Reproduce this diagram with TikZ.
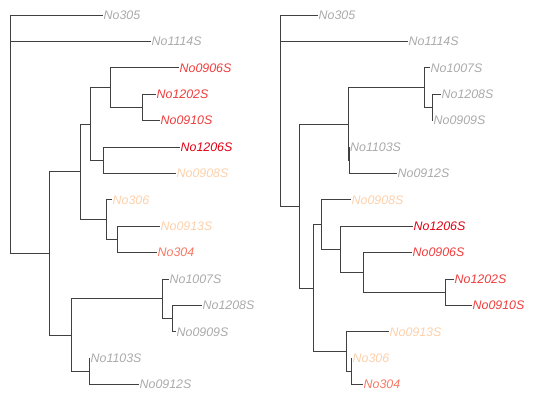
\documentclass[tikz,border=0pt]{standalone}
\usepackage{fontspec}
\setmainfont{Liberation Sans}
\definecolor{tipgrey}{RGB}{170,170,170}
\definecolor{tippeach}{RGB}{253,208,170}
\definecolor{tipsalmon}{RGB}{246,120,100}
\definecolor{tipred}{RGB}{240,60,60}
\definecolor{tipdeep}{RGB}{225,0,20}
\tikzset{
  leaf/.style={anchor=west, inner sep=0.5pt, font=\fontsize{12.4}{14}\selectfont\itshape},
  branch/.style={draw=black!75, line width=0.8pt},
}
\begin{document}
\begin{tikzpicture}[x=1pt, y=-1pt]
  \useasboundingbox (0,0) rectangle (540,400);

  % Left tree: leaves
  \node[leaf, tipgrey]   (a305)  at (103,15)    {No305};
  \node[leaf, tipgrey]   (a1114) at (151,41.4)  {No1114S};
  \node[leaf, tipred]    (a0906) at (179,67.8)  {No0906S};
  \node[leaf, tipred]    (a1202) at (156,94.2)  {No1202S};
  \node[leaf, tipred]    (a0910) at (160,120.6) {No0910S};
  \node[leaf, tipdeep]   (a1206) at (180,147)   {No1206S};
  \node[leaf, tippeach]  (a0908) at (176,173.4) {No0908S};
  \node[leaf, tippeach]  (a306)  at (112,199.8) {No306};
  \node[leaf, tippeach]  (a0913) at (160,226.2) {No0913S};
  \node[leaf, tipsalmon] (a304)  at (157,252.6) {No304};
  \node[leaf, tipgrey]   (a1007) at (169,279)   {No1007S};
  \node[leaf, tipgrey]   (a1208) at (202,305.4) {No1208S};
  \node[leaf, tipgrey]   (a0909) at (176,331.8) {No0909S};
  \node[leaf, tipgrey]   (a1103) at (90,358.2)  {No1103S};
  \node[leaf, tipgrey]   (a0912) at (139,384.6) {No0912S};

  % Left tree: inner nodes
  \coordinate (aR) at (10,134);
  \coordinate (aA) at (49,253.4);
  \coordinate (aB) at (80,171.75);
  \coordinate (aC) at (90,123.9);
  \coordinate (aD) at (110,87.6);
  \coordinate (aH) at (142,107.4);
  \coordinate (aG) at (103,160.2);
  \coordinate (aE) at (106,219.6);
  \coordinate (aI) at (117,239.4);
  \coordinate (aF) at (71,335.1);
  \coordinate (aJ) at (162,298.8);
  \coordinate (aM) at (172,318.6);
  \coordinate (aK) at (89,371.4);

  % Right tree: leaves
  \node[leaf, tipgrey]   (b305)  at (318,15)    {No305};
  \node[leaf, tipgrey]   (b1114) at (408,41.4)  {No1114S};
  \node[leaf, tipgrey]   (b1007) at (430,67.8)  {No1007S};
  \node[leaf, tipgrey]   (b1208) at (441,94.2)  {No1208S};
  \node[leaf, tipgrey]   (b0909) at (433,120.6) {No0909S};
  \node[leaf, tipgrey]   (b1103) at (349.5,147) {No1103S};
  \node[leaf, tipgrey]   (b0912) at (397,173.4) {No0912S};
  \node[leaf, tippeach]  (b0908) at (351,199.8) {No0908S};
  \node[leaf, tipdeep]   (b1206) at (413,226.2) {No1206S};
  \node[leaf, tipred]    (b0906) at (412,252.6) {No0906S};
  \node[leaf, tipred]    (b1202) at (454,279)   {No1202S};
  \node[leaf, tipred]    (b0910) at (472,305.4) {No0910S};
  \node[leaf, tippeach]  (b0913) at (389,331.8) {No0913S};
  \node[leaf, tippeach]  (b306)  at (352,358.2) {No306};
  \node[leaf, tipsalmon] (b304)  at (363,384.6) {No304};

  % Right tree: inner nodes
  \coordinate (bR) at (280,110);
  \coordinate (bA) at (299,206);
  \coordinate (bB) at (348,123.9);
  \coordinate (bC) at (424,87.6);
  \coordinate (bE) at (432,107.4);
  \coordinate (bD) at (349,160.2);
  \coordinate (bF) at (313,288.1);
  \coordinate (bG) at (321,224.55);
  \coordinate (bH) at (340,249.3);
  \coordinate (bI) at (363,272.4);
  \coordinate (bJ) at (445,292.2);
  \coordinate (bK) at (346,351.6);
  \coordinate (bL) at (351,371.4);

  % Branches (parent/child)
  \foreach \p/\c in {aR/a305, aR/a1114, aR/aA, aA/aB, aA/aF, aB/aC, aB/aE,
      aC/aD, aC/aG, aD/a0906, aD/aH, aH/a1202, aH/a0910, aG/a1206, aG/a0908,
      aE/a306, aE/aI, aI/a0913, aI/a304, aF/aJ, aF/aK, aJ/a1007, aJ/aM,
      aM/a1208, aM/a0909, aK/a1103, aK/a0912}
    \draw[branch] (\p) |- (\c);
  \foreach \p/\c in {bR/b305, bR/b1114, bR/bA, bA/bB, bA/bF, bB/bC, bB/bD,
      bC/b1007, bC/bE, bE/b1208, bE/b0909, bD/b1103, bD/b0912, bF/bG, bF/bK,
      bG/b0908, bG/bH, bH/b1206, bH/bI, bI/b0906, bI/bJ, bJ/b1202, bJ/b0910,
      bK/b0913, bK/bL, bL/b306, bL/b304}
    \draw[branch] (\p) |- (\c);
\end{tikzpicture}
\end{document}
